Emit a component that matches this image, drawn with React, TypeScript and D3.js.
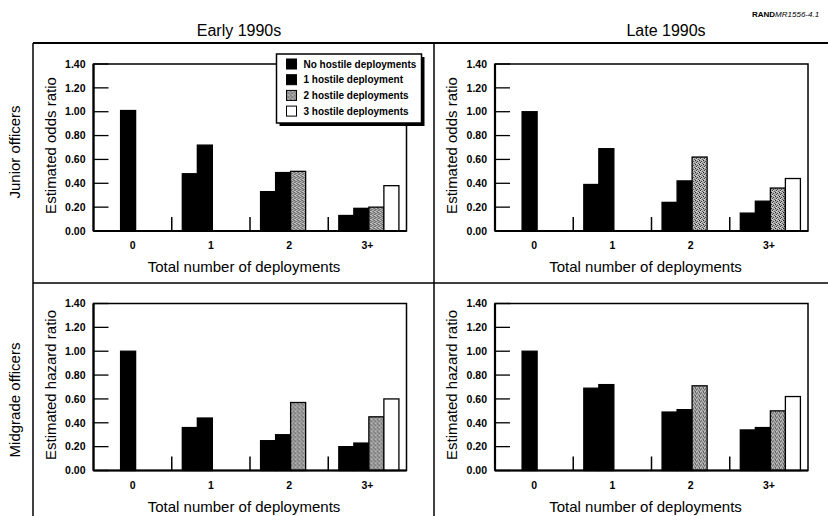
import React from "react";
import * as d3 from "d3";

const categories = ["0", "1", "2", "3+"];
const seriesNames = [
  "No hostile deployments",
  "1 hostile deployment",
  "2 hostile deployments",
  "3 hostile deployments",
];
const yTicks = [0, 0.2, 0.4, 0.6, 0.8, 1.0, 1.2, 1.4];

// values per category, bar j = series j
const earlyJunior = [[1.01], [0.48, 0.72], [0.33, 0.49, 0.5], [0.13, 0.19, 0.2, 0.38]];
const lateJunior = [[1.0], [0.39, 0.69], [0.24, 0.42, 0.62], [0.15, 0.25, 0.36, 0.44]];
const earlyMid = [[1.0], [0.36, 0.44], [0.25, 0.3, 0.57], [0.2, 0.23, 0.45, 0.6]];
const lateMid = [[1.0], [0.69, 0.72], [0.49, 0.51, 0.71], [0.34, 0.36, 0.5, 0.62]];

const columnTitles = ["Early 1990s", "Late 1990s"];
const rowTitles = ["Junior officers", "Midgrade officers"];
const yTitles = ["Estimated odds ratio", "Estimated hazard ratio"];
const xTitle = "Total number of deployments";

const W = 828;
const H = 516;
const FONT = "'Liberation Sans', Arial, Helvetica, sans-serif";
const fills = ["#000", "#000", "url(#stipple)", "#fff"];
const slotStart = [1.1, 0, 0, 0];

const colX = [93.5, 495];
const rowY = [64, 303.5];
const PW = 313;
const PH = 167;

function Panel({ x, y, data, yTitle, legend }: any) {
  const xs = d3.scaleBand<string>().domain(categories).range([0, PW]);
  const ys = d3.scaleLinear().domain([0, 1.4]).range([PH, 0]);
  const bw = xs.bandwidth();
  const fmt = d3.format(".2f");
  const off = bw * 0.135;
  const sw = bw * 0.192;
  return (
    <g transform={`translate(${x},${y})`}>
      {data.map((vals: number[], ci: number) =>
        vals.map((v, j) => {
          const bx = (xs(categories[ci]) as number) + off + (slotStart[ci] + j) * sw;
          return (
            <rect
              key={`${ci}-${j}`}
              x={bx}
              y={ys(v)}
              width={sw}
              height={PH - ys(v)}
              fill={fills[j]}
              stroke="#000"
              strokeWidth={1.3}
            />
          );
        })
      )}
      <rect x={0} y={0} width={PW} height={PH} fill="none" stroke="#000" strokeWidth={1.5} />
      <line x1={0} x2={0} y1={0} y2={PH} stroke="#000" strokeWidth={2.2} />
      <line x1={0} x2={PW} y1={PH} y2={PH} stroke="#000" strokeWidth={2.2} />
      {yTicks.map((t) => (
        <g key={t}>
          <line x1={0} x2={15} y1={ys(t)} y2={ys(t)} stroke="#000" strokeWidth={1.3} />
          <text
            x={-8}
            y={ys(t)}
            dy="0.36em"
            textAnchor="end"
            fontSize={10.5}
            fontWeight="bold"
            fontFamily={FONT}
          >
            {fmt(t)}
          </text>
        </g>
      ))}
      {categories.slice(1).map((c) => (
        <line
          key={c}
          x1={xs(c) as number}
          x2={xs(c) as number}
          y1={PH - 14}
          y2={PH}
          stroke="#000"
          strokeWidth={1.5}
        />
      ))}
      {categories.map((c) => (
        <text
          key={c}
          x={(xs(c) as number) + bw / 2}
          y={PH + 18}
          textAnchor="middle"
          fontSize={10.5}
          fontWeight="bold"
          fontFamily={FONT}
        >
          {c}
        </text>
      ))}
      <text x={PW / 2 - 6} y={PH + 41} textAnchor="middle" fontSize={15} fontFamily={FONT}>
        {xTitle}
      </text>
      <text
        transform={`translate(${-43},${PH / 2 - 2}) rotate(-90)`}
        textAnchor="middle"
        dy="0.35em"
        fontSize={15}
        fontFamily={FONT}
      >
        {yTitle}
      </text>
      {legend && (
        <g transform={`translate(${183},${-10})`}>
          <rect x={3} y={3} width={145} height={69} fill="#000" />
          <rect x={0} y={0} width={145} height={69} fill="#fff" stroke="#000" strokeWidth={1.5} />
          {seriesNames.map((s, i) => (
            <g key={s} transform={`translate(10,${10 + i * 15.7})`}>
              <rect x={0} y={-5} width={10} height={10} fill={fills[i]} stroke="#000" strokeWidth={1} />
              <text x={17} y={0} dy="0.35em" fontSize={10} fontWeight="bold" fontFamily={FONT}>
                {s}
              </text>
            </g>
          ))}
        </g>
      )}
    </g>
  );
}

export default function App() {
  const panels = [
    [earlyJunior, lateJunior],
    [earlyMid, lateMid],
  ];
  return (
    <svg
      width={W}
      height={H}
      viewBox={`0 0 ${W} ${H}`}
      style={{ position: "absolute", left: 0, top: 0, background: "#fff" }}
    >
      <defs>
        <pattern id="stipple" width={4} height={4} patternUnits="userSpaceOnUse">
          <rect width={4} height={4} fill="#a8a8a8" />
          <rect x={0} y={0} width={1} height={1} fill="#222" />
          <rect x={2} y={1} width={1} height={1} fill="#444" />
          <rect x={1} y={2} width={1} height={1} fill="#333" />
          <rect x={3} y={3} width={1} height={1} fill="#555" />
          <rect x={3} y={0} width={1} height={1} fill="#d8d8d8" />
          <rect x={1} y={3} width={1} height={1} fill="#e0e0e0" />
          <rect x={2} y={2} width={1} height={1} fill="#cfcfcf" />
        </pattern>
      </defs>
      <rect width={W} height={H} fill="#fff" />
      <text x={752} y={17} fontSize={8} fontFamily={FONT}>
        <tspan fontWeight="bold">RAND</tspan>
        <tspan fontStyle="italic">MR1556-4.1</tspan>
      </text>
      {columnTitles.map((t, i) => (
        <text key={t} x={[239, 666][i]} y={36} textAnchor="middle" fontSize={16} fontFamily={FONT}>
          {t}
        </text>
      ))}
      <g stroke="#000" strokeWidth={1.5} fill="none">
        <line x1={33} x2={W} y1={43} y2={43} strokeWidth={2} />
        <line x1={33} x2={33} y1={43} y2={H} />
        <line x1={434} x2={434} y1={43} y2={H} />
        <line x1={33} x2={W} y1={283} y2={283} />
      </g>
      {rowTitles.map((t, i) => (
        <text
          key={t}
          transform={`translate(15,${[152, 400][i]}) rotate(-90)`}
          textAnchor="middle"
          dy="0.35em"
          fontSize={15}
          fontFamily={FONT}
        >
          {t}
        </text>
      ))}
      {panels.map((row, r) =>
        row.map((data, c) => (
          <Panel
            key={`${r}-${c}`}
            x={colX[c]}
            y={rowY[r]}
            data={data}
            yTitle={yTitles[r]}
            legend={r === 0 && c === 0}
          />
        ))
      )}
    </svg>
  );
}
